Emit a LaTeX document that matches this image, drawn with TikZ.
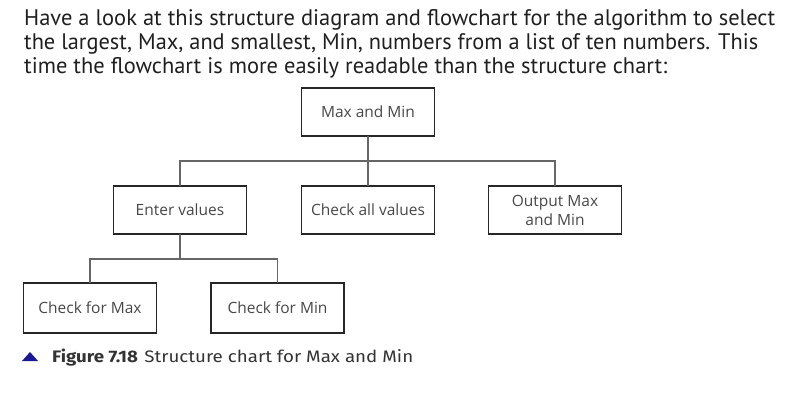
\documentclass[tikz,border=0pt]{standalone}
\usepackage{fontspec}
\setmainfont{Open Sans}
\newfontfamily\bodyfont{PT Sans}
\newfontfamily\capfont{Fira Sans}
\begin{document}
\begin{tikzpicture}[x=1pt,y=-1pt,
  box/.style={draw=black!85,line width=1.8pt,minimum width=133pt,minimum height=48pt,inner sep=0pt,outer sep=0pt,
    font=\fontsize{15.5}{18}\selectfont,text=black!72,align=center},
  link/.style={draw=black!60,line width=1.3pt},
  bodyline/.style={anchor=base west,inner sep=0pt,font=\bodyfont\fontsize{22.5}{24}\selectfont,text=black!88}]
\useasboundingbox (0,0) rectangle (798,405);
% body text
\node[bodyline] (l1) at (24,25) {\resizebox{751pt}{\height}{Have a look at this structure diagram and flowchart for the algorithm to select}};
\node[bodyline] (l2) at (24,49) {\resizebox{734pt}{\height}{the largest, Max, and smallest, Min, numbers from a list of ten numbers. This}};
\node[bodyline] (l3) at (24,73) {\resizebox{643pt}{\height}{time the flowchart is more easily readable than the structure chart:}};
% boxes
\node[box] (top) at (368,112) {Max and Min};
\node[box] (enter) at (180,210) {Enter values};
\node[box] (chkall) at (368,210) {Check all values};
\node[box] (out) at (555,210) {Output Max\\[1pt]and Min};
\node[box,minimum height=50pt] (cmax) at (90,308) {Check for Max};
\node[box,minimum height=50pt] (cmin) at (277.5,308) {Check for Min};
% connectors
\coordinate (bus1) at (368,161);
\coordinate (bus2) at (180,259);
\draw[link] (top.south) -- (bus1);
\draw[link] (enter.north) |- (bus1) -| (out.north);
\draw[link] (bus1) -- (chkall.north);
\draw[link] (enter.south) -- (bus2);
\draw[link] (cmax.north) |- (bus2) -| (cmin.north);
% caption
\fill[blue!55!black!90] (22,361) -- (30,352) -- (38,361) -- cycle;
\node[anchor=base west,inner sep=0pt,font=\capfont\fontsize{18}{20}\selectfont,text=black!80] (cap) at (52,362)
  {\resizebox{361pt}{13.5pt}{\textbf{Figure 7.18}\hspace{6pt}Structure chart for Max and Min}};
\end{tikzpicture}
\end{document}
